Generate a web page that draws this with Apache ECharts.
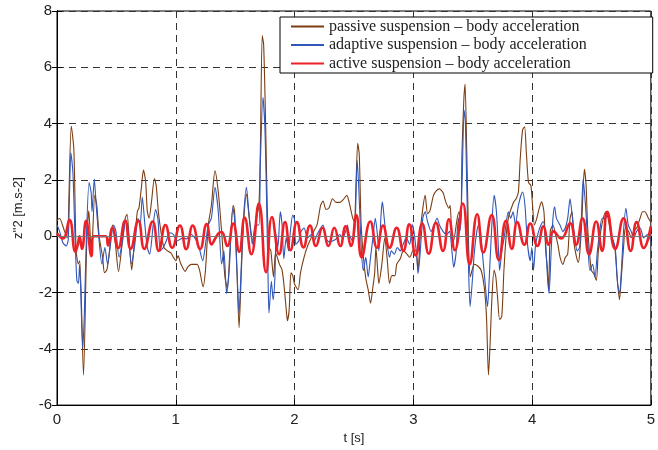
<!DOCTYPE html>
<html>
<head>
<meta charset="utf-8">
<script src="https://cdn.jsdelivr.net/npm/echarts@6/dist/echarts.min.js"></script>
<style>
html,body{margin:0;padding:0;background:#fff}
#chart{width:658px;height:450px}
</style>
</head>
<body>
<div id="chart"></div>
<script>
// passive suspension (brown)
var passiveT=[0,.02,.064,.086,.12,.142,.161,.18,.192,.223,.25,.268,.29,.318,.335,.355,.384,.4,.42,.44,.467,.49,.518,.545,.575,.59,.61,.629,.65,.676,.69,.71,.728,.746,.76,.775,.795,.82,.835,.855,.875,.9,.93,.96,.98,1.0,1.02,1.04,1.08,1.1,1.13,1.16,1.18,1.2,1.23,1.25,1.274,1.3,1.33,1.358,1.386,1.414,1.434,1.455,1.483,1.495,1.515,1.533,1.55,1.57,1.595,1.62,1.65,1.678,1.7,1.712,1.728,1.74,1.756,1.77,1.784,1.8,1.823,1.84,1.855,1.873,1.895,1.915,1.93,1.94,1.955,1.97,1.985,2.0,2.03,2.05,2.08,2.11,2.14,2.165,2.19,2.22,2.24,2.265,2.29,2.32,2.35,2.38,2.41,2.44,2.46,2.49,2.505,2.515,2.532,2.545,2.56,2.58,2.6,2.62,2.64,2.66,2.675,2.685,2.7,2.71,2.735,2.76,2.78,2.8,2.82,2.845,2.86,2.89,2.916,2.94,2.97,3.0,3.02,3.04,3.06,3.08,3.1,3.12,3.14,3.17,3.195,3.22,3.25,3.275,3.3,3.31,3.33,3.35,3.37,3.386,3.4,3.41,3.425,3.436,3.45,3.46,3.467,3.48,3.495,3.514,3.54,3.57,3.597,3.616,3.633,3.645,3.66,3.68,3.695,3.71,3.727,3.745,3.763,3.785,3.805,3.826,3.846,3.866,3.885,3.9,3.92,3.937,3.952,3.97,3.99,4.004,4.02,4.04,4.06,4.08,4.1,4.115,4.128,4.14,4.153,4.176,4.198,4.217,4.236,4.26,4.28,4.3,4.32,4.336,4.355,4.375,4.39,4.403,4.42,4.44,4.455,4.467,4.487,4.5,4.52,4.541,4.558,4.578,4.6,4.62,4.64,4.66,4.675,4.697,4.716,4.736,4.752,4.772,4.786,4.814,4.835,4.855,4.88,4.91,4.93,4.95,4.98,5.0];
var passiveV=[.55,.64,.17,-.06,3.91,3.07,-.52,-.99,-.87,-4.93,-.3,.9,-.75,1.45,1.1,0,-.75,-1.3,-1.2,-.6,.4,-.2,-1.25,-.4,.65,.78,-.3,-1.2,-.3,.87,1.0,1.7,2.35,1.95,.9,.64,1.2,2.05,1.8,.8,.17,-.4,-.52,-.6,-.75,-.87,-.7,-.95,-1.25,-1.1,-1.0,-1.0,-1.0,-1.2,-1.8,-1.2,.4,1.1,2.32,1.57,.17,-1.45,-1.85,-.6,1.1,.9,-1.2,-3.25,-1.5,.4,1.5,.6,-.2,.6,1.1,3.0,7.13,6.8,4.1,1.1,-.4,-.5,-1.45,-.6,-.75,-1.0,-1.2,-1.9,-2.6,-3.0,-2.6,-1.3,-1.4,-1.7,-1.9,-1.3,-.75,-.35,-.06,.2,.41,1.1,1.25,.95,1.0,1.33,1.2,1.2,1.3,1.45,1.2,.64,.5,1.5,3.3,2.9,.5,-.75,-1.5,-1.9,-2.38,-1.8,-1.3,-.4,-1.2,-1.68,-1.0,-.06,-.8,-1.68,-1.4,-1.4,-1.0,-.8,-.52,-.6,-.75,-.5,-.5,-1.2,.2,.99,1.45,.8,.9,1.45,1.62,1.68,1.55,1.2,.99,1.1,-.3,.06,.64,.87,.4,2.96,4.8,5.4,3.0,1.0,-.52,-1.45,-1.2,-1.0,-1.05,-1.2,-1.8,-2.84,-4.93,-4.0,-2.38,-1.2,-1.45,-2.2,-2.96,-2.85,-1.22,.17,.75,1.0,1.22,1.33,1.57,2.73,3.77,3.89,2.96,1.91,1.8,1.1,.4,.64,.99,1.22,.87,-.52,-1.1,-1.91,.17,.4,.06,-.29,-.75,-1.0,-.75,-.64,.64,.87,-.29,-.75,-.93,-.52,.64,2.38,1.8,.4,-.75,-1.22,-1.33,-1.57,-.52,.17,.64,.87,.64,.17,-.06,-.4,-1.45,-2.26,-1.45,-.29,.29,.17,-.06,.17,.29,.64,.87,.87,.64,.5];

// adaptive suspension (blue)
var adaptiveT=[0,.02,.05,.078,.095,.117,.134,.15,.167,.18,.19,.217,.23,.245,.27,.287,.295,.314,.33,.348,.378,.403,.426,.45,.476,.495,.523,.55,.579,.6,.626,.655,.682,.7,.718,.74,.76,.78,.81,.83,.85,.87,.895,.92,.95,.98,1.01,1.04,1.066,1.09,1.13,1.16,1.19,1.227,1.25,1.274,1.3,1.33,1.358,1.386,1.405,1.428,1.45,1.48,1.495,1.515,1.533,1.55,1.57,1.595,1.615,1.645,1.67,1.7,1.712,1.734,1.75,1.762,1.778,1.785,1.805,1.82,1.835,1.845,1.86,1.88,1.895,1.91,1.93,1.95,1.965,1.985,2.0,2.01,2.035,2.055,2.08,2.11,2.14,2.165,2.19,2.22,2.24,2.265,2.29,2.32,2.35,2.38,2.405,2.43,2.445,2.46,2.49,2.51,2.527,2.54,2.563,2.58,2.6,2.62,2.64,2.66,2.68,2.695,2.71,2.73,2.74,2.755,2.78,2.8,2.815,2.84,2.865,2.89,2.915,2.94,2.97,2.99,3.005,3.03,3.04,3.055,3.08,3.1,3.12,3.15,3.175,3.2,3.22,3.25,3.28,3.305,3.325,3.34,3.36,3.37,3.38,3.395,3.41,3.428,3.438,3.45,3.465,3.478,3.495,3.515,3.535,3.55,3.565,3.585,3.605,3.625,3.64,3.66,3.68,3.7,3.715,3.727,3.745,3.765,3.78,3.8,3.82,3.84,3.86,3.885,3.92,3.94,3.962,3.985,3.998,4.012,4.03,4.055,4.075,4.095,4.115,4.13,4.143,4.16,4.176,4.19,4.205,4.235,4.26,4.28,4.3,4.32,4.34,4.36,4.38,4.4,4.415,4.43,4.45,4.47,4.487,4.51,4.53,4.55,4.57,4.59,4.62,4.64,4.66,4.675,4.7,4.72,4.736,4.752,4.77,4.79,4.81,4.835,4.855,4.88,4.91,4.94,4.97,5.0];
var adaptiveV=[.4,.2,-.23,-.35,-.1,2.96,2.26,.2,-1.57,-1.68,-1.0,-4.0,-2.8,-.4,1.91,1.57,.87,2.03,1.1,.17,-.99,-.4,-.99,-.3,.4,.2,-.75,-.2,.58,.2,-.99,-.3,.64,.4,1.39,.4,-.4,-.64,.4,.95,.6,-.52,-.4,-.17,.12,.06,-.17,-.1,-.06,-.1,.06,-.06,-.3,-.87,-.3,.4,.64,1.74,.87,-.99,-.52,-2.03,-1.2,1.0,.64,-1.2,-2.73,-1.2,.64,1.74,.87,-.29,.4,.4,2.6,4.93,3.9,1.8,-1.68,-2.73,-1.6,-2.26,-1.45,.06,-.4,.87,.4,-.8,-.06,-.52,.17,.75,.6,-.29,-.17,.17,.29,-.06,.06,-.17,.06,.29,.4,-.06,-.2,-.17,-.1,.06,-.06,.17,.4,.06,-.17,.4,2.7,1.8,-.52,-1.22,-.75,-1.45,-.75,-.06,.64,.17,-.52,.87,1.22,.64,-.29,-.75,-.52,-.64,-.4,-.52,-.29,-.06,-.29,.41,.17,-.75,-1.33,-.75,.64,.87,.52,.17,.4,.64,.4,.17,.06,.17,-.52,-1.1,-.6,.17,.64,.2,1.8,4.47,4.1,1.8,-1.1,-2.5,-1.7,-.52,.17,.4,.17,-.75,-1.68,-2.5,-1.45,.29,1.45,.87,-.29,-1.22,-.52,-.06,.4,.87,.64,.87,.4,1.1,1.57,1.1,-.29,-.87,-.4,-1.22,-.29,.17,.4,.52,-.29,-1.45,-2.03,-.6,.64,1.04,.64,.4,.17,.29,.64,1.33,.64,-.06,-.52,-.4,.64,2.03,1.1,-.29,-1.22,-1.0,-1.45,-.52,.17,.64,.64,.87,.4,-.06,-.4,-1.68,-2.03,-1.22,.17,.99,.4,.17,-.06,.17,.29,-.06,.06,-.17];

// active suspension (red)
var activeT=[0,.05,.105,.155,.175,.19,.21,.245,.29,.305,.41,.43,.465,.515,.573,.62,.685,.735,.805,.857,.913,.97,1.035,1.088,1.143,1.205,1.26,1.303,1.33,1.36,1.386,1.434,1.484,1.534,1.58,1.636,1.7,1.76,1.81,1.87,1.92,1.965,2.02,2.075,2.13,2.18,2.235,2.285,2.335,2.385,2.43,2.475,2.52,2.565,2.638,2.694,2.745,2.8,2.86,2.916,2.966,3.02,3.075,3.13,3.19,3.25,3.3,3.35,3.417,3.475,3.538,3.59,3.66,3.72,3.78,3.83,3.875,3.935,3.985,4.045,4.096,4.14,4.18,4.245,4.32,4.37,4.425,4.48,4.54,4.59,4.633,4.7,4.77,4.83,4.88,4.94,5.0];
var activeV=[.1,-.08,.58,-.55,-.3,0,-.45,.55,-.7,0,0,-.33,.3,-.42,.55,-.45,.55,-.45,.52,-.52,.4,-.41,.38,-.46,.38,-.46,.43,-.29,-.1,.1,.15,-.35,.45,-.55,.66,-.64,1.16,-1.28,.68,-.64,.5,-.5,.5,-.4,.38,-.35,.3,-.35,.3,-.35,.35,-.35,.75,-.75,.52,-.41,.38,-.41,.3,-.52,.42,-.68,.45,-.62,.48,-.52,.6,-.5,1.16,-1.0,.78,-.58,.75,-.85,.55,-.45,.5,-.3,.45,-.35,.35,-.3,.17,-.08,.46,-.3,.64,-.64,.52,-.52,.87,-.45,.64,-.52,.5,-.42,.35];

var seriesNames=['passive suspension \u2013 body acceleration','adaptive suspension \u2013 body acceleration','active suspension \u2013 body acceleration'];
var yTicks={min:-6,max:8,step:2};
var xTicks={min:0,max:5,step:1};

function zip(t,v){
    var out=[];
    for(var i=0;i<t.length;i++){out.push([t[i],v[i]]);}
    return out;
}

var chart=echarts.init(document.getElementById('chart'));
var gridLine={show:true,lineStyle:{color:'#333',type:[7,5],width:1}};
var option={
    animation:false,
    backgroundColor:'#fff',
    grid:{left:57,right:1,top:11,bottom:39,show:true,borderColor:'#000',borderWidth:1},
    legend:{
        orient:'vertical',left:280,top:17,
        itemWidth:33,itemHeight:12,itemGap:2.5,
        padding:[1.5,66,1.5,10],
        backgroundColor:'#fff',borderColor:'#000',borderWidth:1,
        itemStyle:{opacity:0},
        textStyle:{fontFamily:'Liberation Serif',fontSize:16,lineHeight:16,color:'#222'},
        data:seriesNames
    },
    xAxis:[{
        type:'value',min:xTicks.min,max:xTicks.max,interval:xTicks.step,
        name:'t [s]',nameLocation:'middle',nameGap:24,
        nameTextStyle:{fontFamily:'Liberation Sans',fontSize:13,color:'#222'},
        axisLine:{show:true,onZero:false,lineStyle:{color:'#000'}},
        axisTick:{show:true,inside:true,length:5,lineStyle:{color:'#000'}},
        axisLabel:{fontFamily:'Liberation Sans',fontSize:15,color:'#222',margin:7},
        splitLine:gridLine
    },{
        type:'value',position:'top',min:xTicks.min,max:xTicks.max,interval:xTicks.step,
        axisLine:{show:true,lineStyle:{color:'#000'}},
        axisTick:{show:true,inside:true,length:5,lineStyle:{color:'#000'}},
        axisLabel:{show:false},splitLine:{show:false}
    }],
    yAxis:[{
        type:'value',min:yTicks.min,max:yTicks.max,interval:yTicks.step,
        name:"z''2 [m.s-2]",nameLocation:'middle',nameGap:32,
        nameTextStyle:{fontFamily:'Liberation Sans',fontSize:13,color:'#222'},
        axisLine:{show:true,onZero:false,lineStyle:{color:'#000'}},
        axisTick:{show:true,inside:true,length:5,lineStyle:{color:'#000'}},
        axisLabel:{fontFamily:'Liberation Sans',fontSize:15,color:'#222',margin:5},
        splitLine:gridLine
    },{
        type:'value',position:'right',min:yTicks.min,max:yTicks.max,interval:yTicks.step,
        axisLine:{show:true,lineStyle:{color:'#000'}},
        axisTick:{show:true,inside:true,length:5,lineStyle:{color:'#000'}},
        axisLabel:{show:false},splitLine:{show:false}
    }],
    series:[{
        name:seriesNames[0],type:'line',symbol:'none',smooth:0.25,
        lineStyle:{color:'#7b3d12',width:1.1},itemStyle:{color:'#7b3d12'},
        data:zip(passiveT,passiveV),
        markLine:{silent:true,symbol:'none',label:{show:false},
            lineStyle:{color:'#777',type:'solid',width:1},data:[{yAxis:0}]}
    },{
        name:seriesNames[1],type:'line',symbol:'none',smooth:0.25,
        lineStyle:{color:'#2f56b8',width:1.1},itemStyle:{color:'#2f56b8'},
        data:zip(adaptiveT,adaptiveV)
    },{
        name:seriesNames[2],type:'line',symbol:'none',smooth:0.5,
        lineStyle:{color:'#ee2027',width:2.6},itemStyle:{color:'#ee2027'},
        data:zip(activeT,activeV)
    }]
};
chart.setOption(option);
</script>
</body>
</html>
